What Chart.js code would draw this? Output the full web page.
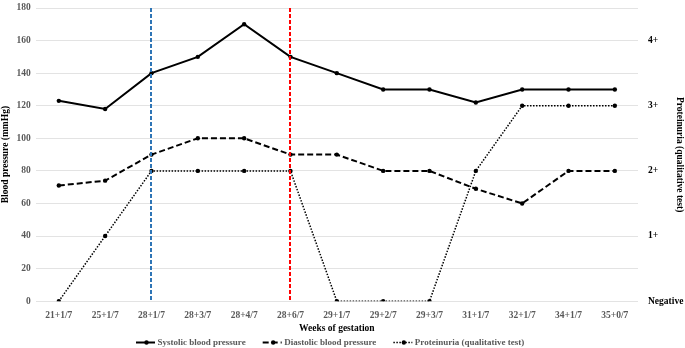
<!DOCTYPE html>
<html>
<head>
<meta charset="utf-8">
<script src="https://cdn.jsdelivr.net/npm/chart.js@4"></script>
<style>
  html, body { margin: 0; padding: 0; background: #fff; }
  #wrap { width: 685px; height: 348px; }
</style>
</head>
<body>
<div id="wrap"><canvas id="bp"></canvas></div>
<script>
const weeks = ['21+1/7', '25+1/7', '28+1/7', '28+3/7', '28+4/7', '28+6/7', '29+1/7',
  '29+2/7', '29+3/7', '31+1/7', '32+1/7', '34+1/7', '35+0/7'];
const systolic = [123, 118, 140, 150, 170, 150, 140, 130, 130, 122, 130, 130, 130];
const diastolic = [71, 74, 90, 100, 100, 90, 90, 80, 80, 69, 60, 80, 80];
const proteinuria = [0, 1, 2, 2, 2, 2, 0, 0, 0, 2, 3, 3, 3];
const proteinLabels = ['Negative', '1+', '2+', '3+', '4+'];
const markers = [{ week: '28+1/7', color: '#2e75b6' }, { week: '28+6/7', color: '#ff0000' }];

const serif = 'Liberation Serif';
const tickFont = { family: serif, size: 9.5, weight: 'bold' };
const titleFont = { family: serif, size: 9.5, weight: 'bold' };
const boxW = 30;
const legendStart = 123;

// vertical dashed marker lines at given weeks
const markerLines = {
  id: 'markerLines',
  afterDatasetsDraw(chart) {
    const { ctx, chartArea, scales } = chart;
    ctx.save();
    ctx.lineWidth = 2;
    ctx.setLineDash([4, 2]);
    markers.forEach(m => {
      const x = Math.round(scales.x.getPixelForValue(weeks.indexOf(m.week)));
      ctx.strokeStyle = m.color;
      ctx.beginPath();
      ctx.moveTo(x, chartArea.top);
      ctx.lineTo(x, chartArea.bottom);
      ctx.stroke();
    });
    ctx.restore();
  }
};

// nudge the legend a bit left, like the original
const legendShift = {
  id: 'legendShift',
  afterLayout(chart) {
    const lg = chart.legend;
    if (!lg || !lg.lineWidths) return;
    const pad = lg.options.labels.padding;
    const x0 = (lg.left + pad + lg.right - lg.lineWidths[0]) / 2;
    const dx = legendStart - x0;
    lg.left += dx;
    lg.right += dx;
  }
};

// legend swatches: line in the dataset's dash with a dot in the middle
const legendSwatches = {
  id: 'legendSwatches',
  afterDraw(chart) {
    const lg = chart.legend;
    if (!lg || !lg.legendHitBoxes) return;
    const ctx = chart.ctx;
    ctx.save();
    lg.legendHitBoxes.forEach((hb, i) => {
      const ds = chart.data.datasets[i];
      const y = hb.top + hb.height / 2;
      const x0 = hb.left + boxW - 17, x1 = hb.left + boxW + 2;
      ctx.strokeStyle = '#000';
      ctx.lineWidth = ds.borderWidth;
      ctx.setLineDash(ds.borderDash);
      ctx.beginPath();
      ctx.moveTo(x0, y);
      ctx.lineTo(x1, y);
      ctx.stroke();
      ctx.setLineDash([]);
      ctx.fillStyle = '#000';
      ctx.beginPath();
      ctx.arc((x0 + x1) / 2 + 1, y, 2.2, 0, Math.PI * 2);
      ctx.fill();
    });
    ctx.restore();
  }
};

const noVertPad = s => { s.paddingTop = 0; s.paddingBottom = 0; };

const line = (label, data, dash, width, axis) => ({
  label, data, yAxisID: axis,
  borderColor: '#000', backgroundColor: '#000',
  borderWidth: width, borderDash: dash,
  pointRadius: 2.2, pointHoverRadius: 2.2,
  pointBackgroundColor: '#000', pointBorderWidth: 0,
  tension: 0
});

new Chart(document.getElementById('bp'), {
  type: 'line',
  data: {
    labels: weeks,
    datasets: [
      line('Systolic blood pressure', systolic, [], 2, 'y'),
      line('Diastolic blood pressure', diastolic, [6, 3], 2, 'y'),
      line('Proteinuria (qualitative test)', proteinuria, [1.5, 1.5], 1.5, 'y1')
    ]
  },
  options: {
    responsive: true,
    maintainAspectRatio: false,
    animation: false,
    layout: { autoPadding: false, padding: { top: 8, left: 0, right: 0, bottom: -9 } },
    plugins: {
      legend: {
        position: 'bottom',
        fullSize: false,
        labels: {
          boxWidth: boxW, boxHeight: 0.01, padding: 4,
          generateLabels(chart) {
            return chart.data.datasets.map((ds, i) => ({
              text: ds.label, datasetIndex: i,
              fillStyle: 'rgba(0,0,0,0)', strokeStyle: 'rgba(0,0,0,0)', lineWidth: 0,
              fontColor: '#595959'
            }));
          },
          color: '#595959', font: { family: serif, size: 9, weight: 'bold' }
        }
      },
      tooltip: { enabled: false }
    },
    scales: {
      x: {
        offset: true,
        grid: { display: false },
        border: { display: false },
        ticks: { color: '#595959', font: tickFont, maxRotation: 0, autoSkip: false, padding: 1 },
        title: { display: true, text: 'Weeks of gestation', color: '#000', font: titleFont, padding: { top: 0, bottom: 0 } }
      },
      y: {
        position: 'left', min: 0, max: 180,
        afterFit: noVertPad,
        ticks: { stepSize: 20, color: '#595959', font: tickFont, padding: 5 },
        grid: { color: '#e3e3e3', drawTicks: false },
        border: { display: false },
        title: { display: true, text: 'Blood pressure (mmHg)', color: '#000', font: titleFont, padding: { top: 0, bottom: 0 } }
      },
      y1: {
        position: 'right', min: 0, max: 4.5,
        afterBuildTicks(s) { s.ticks = s.ticks.filter(t => Number.isInteger(t.value)); },
        afterFit(s) { s.width = 47; noVertPad(s); },
        ticks: {
          stepSize: 1, color: '#000', font: tickFont, padding: 10,
          callback: v => proteinLabels[v]
        },
        grid: { display: false, drawTicks: false },
        border: { display: false },
        title: { display: true, text: 'Proteinuria (qualitative test)', color: '#000', font: titleFont, padding: 0 }
      }
    }
  },
  plugins: [markerLines, legendShift, legendSwatches]
});
</script>
</body>
</html>
